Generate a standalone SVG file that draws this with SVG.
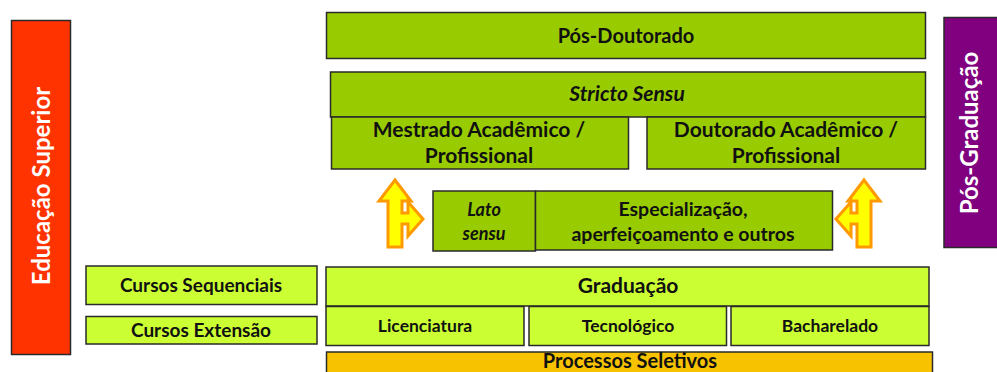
<svg xmlns="http://www.w3.org/2000/svg" width="997" height="372" viewBox="0 0 997 372">
<style>
.box{stroke:#2a2a2a;stroke-width:1.5}
.dg{fill:#99CC00}
.lg{fill:#CCFF33}
.t{font-family:Lato,"Open Sans","Liberation Sans",sans-serif;font-weight:bold;fill:#111;text-anchor:middle}
.n{font-size:17.5px}
.w{fill:#fff}
.arr{fill:#FFFF00;stroke:#FF9900;stroke-width:3;stroke-linejoin:miter}
</style>
<rect width="997" height="372" fill="#fff"/>
<g id="educacao-superior">
<rect class="box" x="11.5" y="20.5" width="59" height="334" fill="#FF3300"/>
<text class="t w" font-size="24" transform="translate(50,186) rotate(-90)">Educação Superior</text>
</g>
<g id="pos-graduacao">
<rect class="box" x="944" y="17.5" width="56" height="230" fill="#800080"/>
<text class="t w" font-size="24" transform="translate(978,133) rotate(-90)">Pós-Graduação</text>
</g>
<g id="pos-doutorado">
<rect class="box dg" x="326.5" y="12.5" width="599" height="46"/>
<text class="t" font-size="20" x="626" y="43">Pós-Doutorado</text>
</g>
<g id="stricto-sensu">
<rect class="box dg" x="330.5" y="72" width="595" height="45"/>
<text class="t" font-size="21" font-style="italic" x="627" y="101">Stricto Sensu</text>
</g>
<g id="mestrado">
<rect class="box dg" x="331.5" y="117" width="297" height="52"/>
<text class="t" font-size="21" x="479" y="137">Mestrado Acadêmico /</text>
<text class="t" font-size="21" x="479" y="163">Profissional</text>
</g>
<g id="doutorado">
<rect class="box dg" x="647" y="117" width="278.5" height="52"/>
<text class="t" font-size="21" x="786" y="137">Doutorado Acadêmico /</text>
<text class="t" font-size="21" x="786" y="163">Profissional</text>
</g>
<g id="lato-sensu">
<rect class="box dg" x="433" y="191" width="102.5" height="60"/>
<text class="t" font-size="18" font-style="italic" x="484" y="216">Lato</text>
<text class="t" font-size="18" font-style="italic" x="484" y="240">sensu</text>
</g>
<g id="especializacao">
<rect class="box dg" x="535.5" y="191" width="297" height="59"/>
<text class="t" font-size="19.5" x="683" y="216">Especialização,</text>
<text class="t" font-size="19.5" x="683" y="241">aperfeiçoamento e outros</text>
</g>
<g id="cursos-sequenciais">
<rect class="box lg" x="86" y="266" width="231" height="38.5"/>
<text class="t" font-size="19" x="201" y="292">Cursos Sequenciais</text>
</g>
<g id="cursos-extensao">
<rect class="box lg" x="86" y="316.5" width="231" height="27.5"/>
<text class="t" font-size="19" x="201" y="337">Cursos Extensão</text>
</g>
<g id="graduacao">
<rect class="box lg" x="326" y="267" width="603" height="39"/>
<text class="t" font-size="21" x="628" y="293">Graduação</text>
</g>
<g id="licenciatura">
<rect class="box lg" x="326" y="306.5" width="198" height="39"/>
<text class="t n" x="425" y="332">Licenciatura</text>
</g>
<g id="tecnologico">
<rect class="box lg" x="529" y="306.5" width="197.5" height="39"/>
<text class="t n" x="628" y="332">Tecnológico</text>
</g>
<g id="bacharelado">
<rect class="box lg" x="731" y="306.5" width="198" height="39"/>
<text class="t n" x="830" y="332">Bacharelado</text>
</g>
<g id="processos-seletivos">
<rect class="box" x="326.5" y="352" width="606" height="30" fill="#F7C300"/>
<text class="t" font-size="20" x="630" y="368">Processos Seletivos</text>
</g>
<g id="connectors">
<path id="arrow-left" class="arr" d="M395,180 L411,201 L402,201 L402,213 L408,213 L408,202 L423,219 L408,236 L408,224 L402,224 L402,247 L388,247 L388,201 L379,201 Z"/>
<path id="arrow-right" class="arr" transform="matrix(-1,0,0,1,1259,0)" d="M395,180 L411,201 L402,201 L402,213 L408,213 L408,202 L423,219 L408,236 L408,224 L402,224 L402,247 L388,247 L388,201 L379,201 Z"/>
</g>
</svg>
